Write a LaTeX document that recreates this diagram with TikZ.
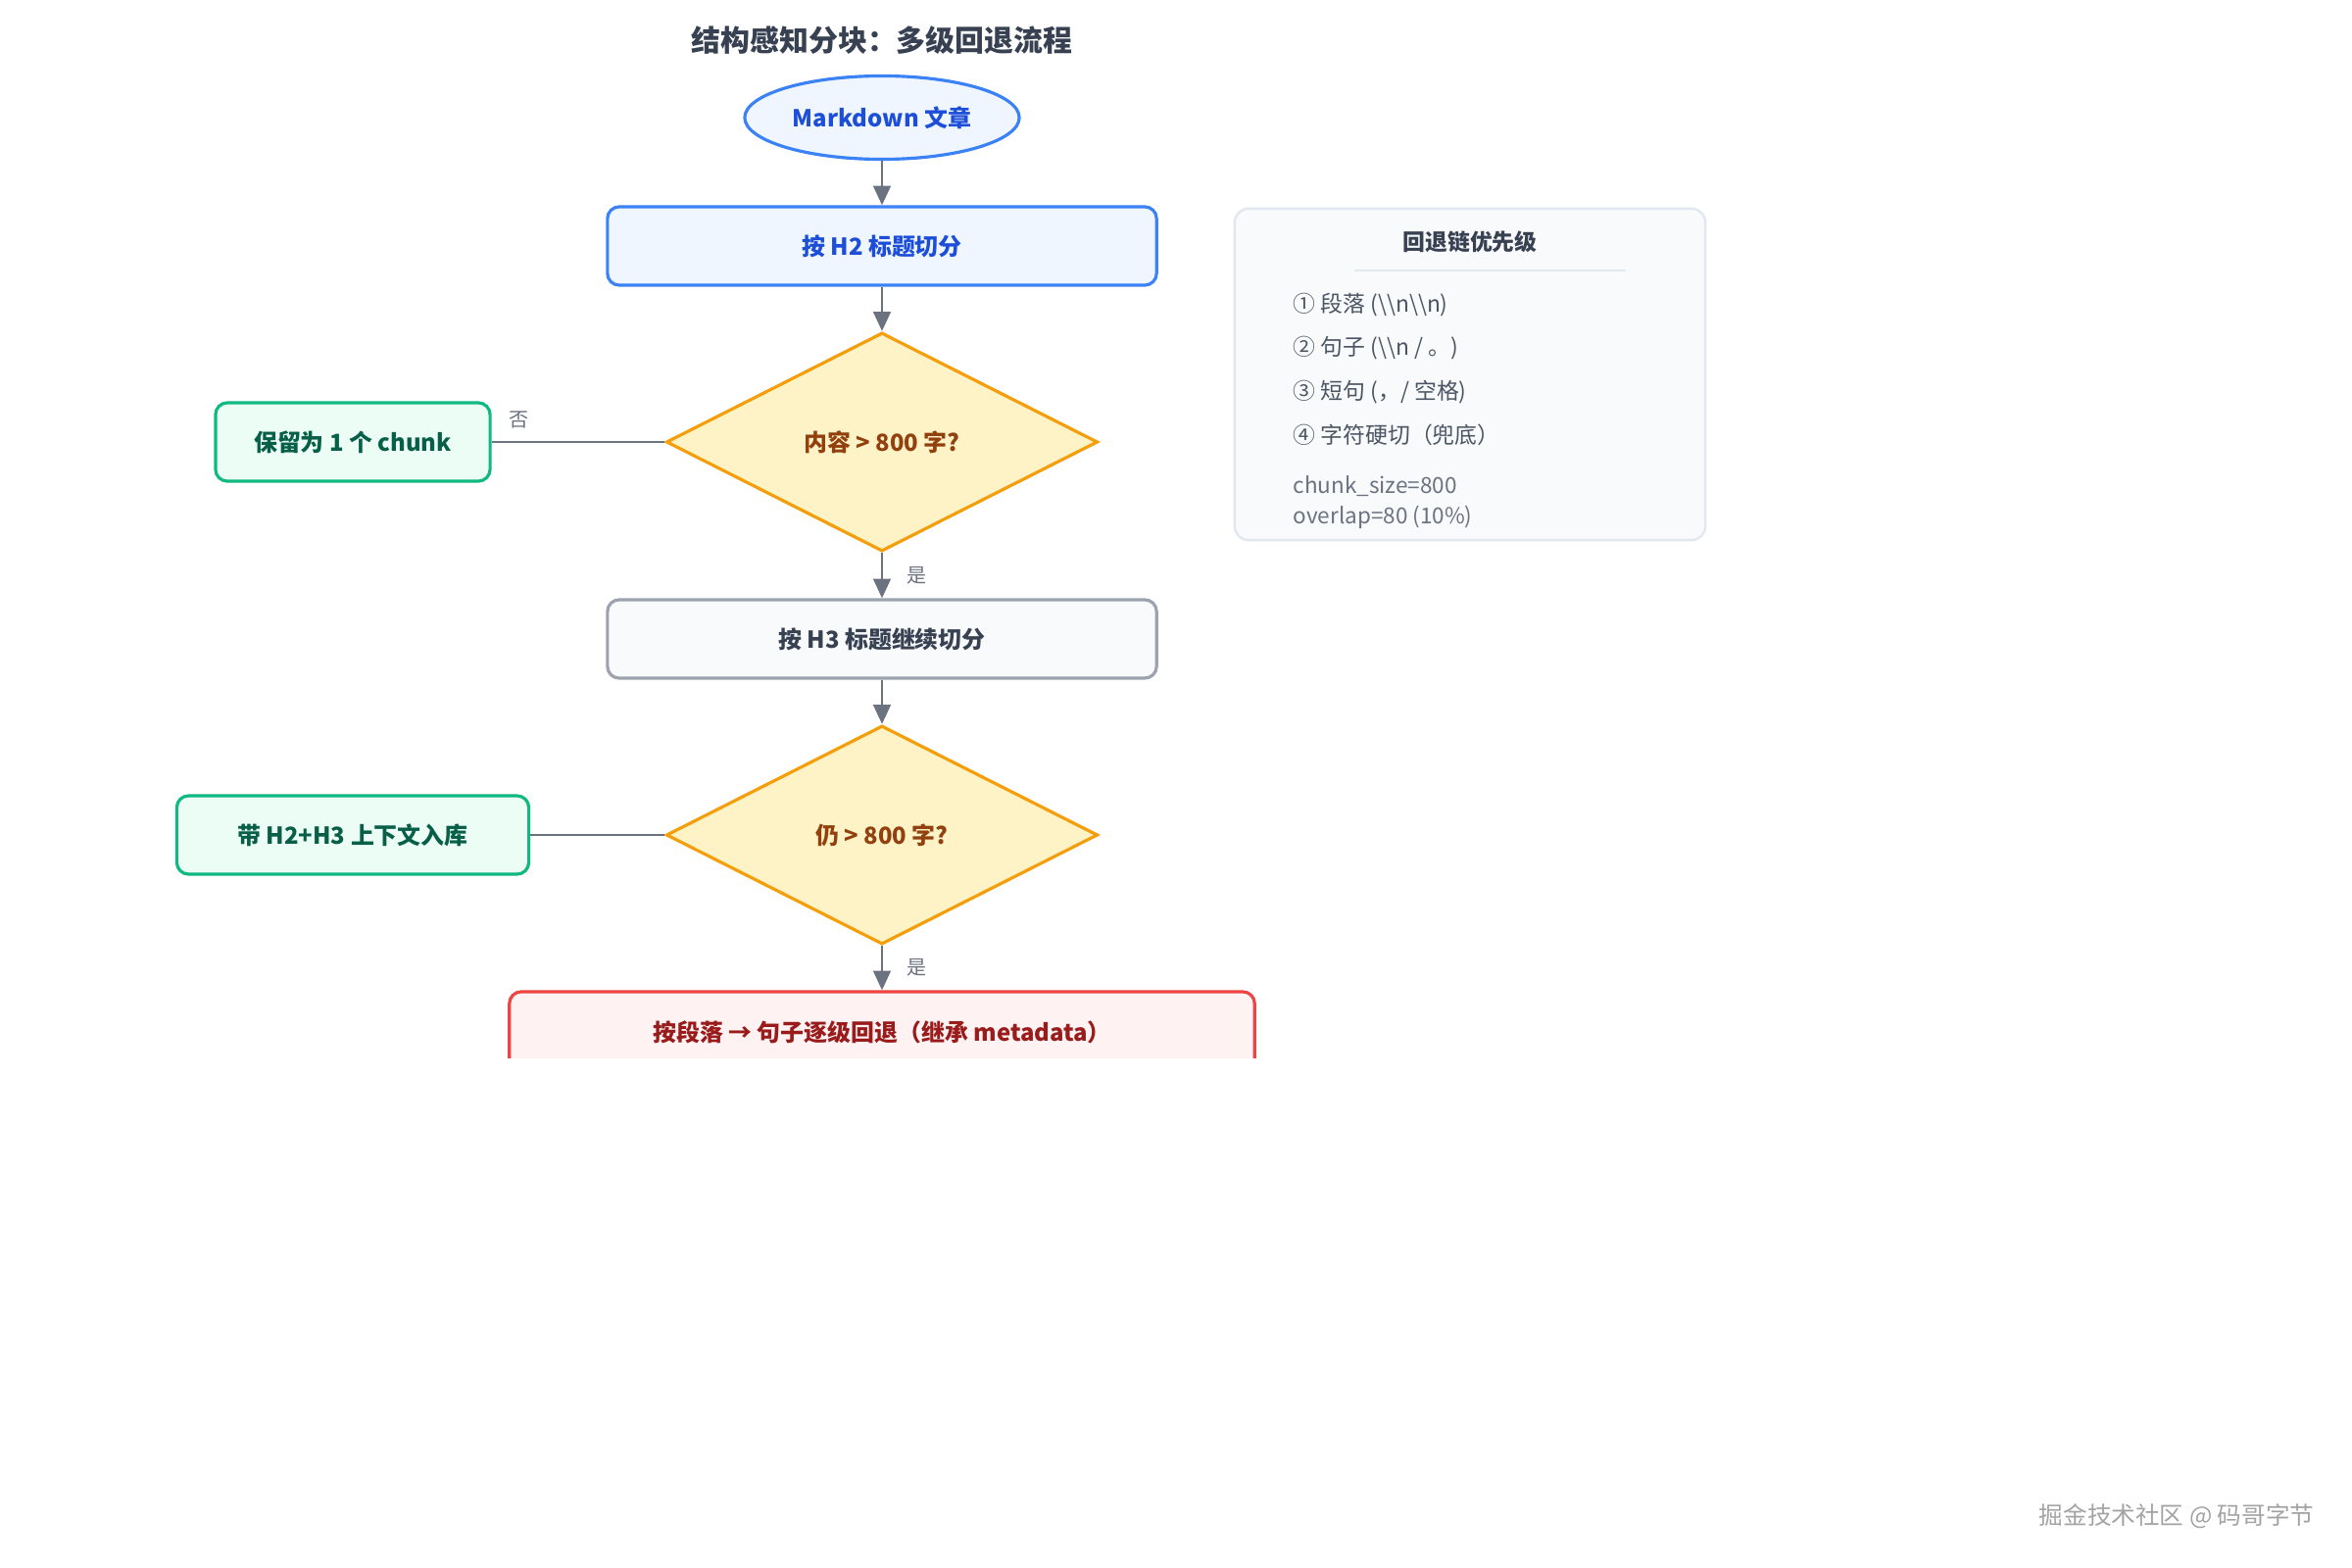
\documentclass[tikz,border=0pt]{standalone}
\usepackage{fontspec}
\setmainfont{Noto Sans CJK SC}
\usetikzlibrary{shapes.geometric,arrows.meta}
\definecolor{blueB}{HTML}{3B82F6}
\definecolor{blueF}{HTML}{EFF6FF}
\definecolor{blueT}{HTML}{1D4ED8}
\definecolor{amberB}{HTML}{F59E0B}
\definecolor{amberF}{HTML}{FEF3C7}
\definecolor{amberT}{HTML}{92400E}
\definecolor{greenB}{HTML}{10B981}
\definecolor{greenF}{HTML}{ECFDF5}
\definecolor{greenT}{HTML}{065F46}
\definecolor{grayB}{HTML}{9CA3AF}
\definecolor{grayF}{HTML}{F8FAFC}
\definecolor{grayT}{HTML}{374151}
\definecolor{redB}{HTML}{EF4444}
\definecolor{redF}{HTML}{FEF2F2}
\definecolor{redT}{HTML}{991B1B}
\definecolor{legB}{HTML}{E2E8F0}
\definecolor{legT}{HTML}{4B5563}
\definecolor{legS}{HTML}{6B7280}
\definecolor{arrowC}{HTML}{6B7280}
\definecolor{wmC}{HTML}{A3A3A3}
\tikzset{
  nodetext/.style={font=\fontsize{6.8pt}{8.2pt}\selectfont\bfseries, inner sep=0pt, align=center},
  bluebox/.style={nodetext, rectangle, rounded corners=0.12cm, draw=blueB, fill=blueF, text=blueT, line width=0.9pt, minimum width=5.6cm, minimum height=0.8cm},
  startell/.style={nodetext, ellipse, draw=blueB, fill=blueF, text=blueT, line width=0.9pt, minimum width=2.8cm, minimum height=0.85cm},
  decision/.style={nodetext, diamond, draw=amberB, fill=amberF, text=amberT, line width=0.9pt, minimum width=4.4cm, minimum height=2.23cm},
  greenbox/.style={nodetext, rectangle, rounded corners=0.12cm, draw=greenB, fill=greenF, text=greenT, line width=0.9pt, minimum height=0.8cm},
  graybox/.style={nodetext, rectangle, rounded corners=0.12cm, draw=grayB, fill=grayF, text=grayT, line width=0.9pt, minimum width=5.6cm, minimum height=0.8cm},
  redbox/.style={nodetext, rectangle, rounded corners=0.12cm, draw=redB, fill=redF, text=redT, line width=0.9pt, minimum width=7.6cm, minimum height=0.82cm},
  flow/.style={draw=arrowC, line width=0.75pt, -{Triangle[length=5.6pt,width=5pt]}},
  plainline/.style={draw=arrowC, line width=0.75pt},
  edgelabel/.style={font=\fontsize{5.7pt}{6.8pt}\selectfont, text=legS, inner sep=0pt},
  legitem/.style={font=\fontsize{6.5pt}{7.8pt}\selectfont, text=legT, inner sep=0pt, anchor=west},
  legsmall/.style={font=\fontsize{6.4pt}{7.6pt}\selectfont, text=legS, inner sep=0pt, anchor=west},
}
\begin{document}
\begin{tikzpicture}[x=0.01cm,y=-0.01cm]
\useasboundingbox (0,0) rectangle (2400,1600);
\fill[white] (0,0) rectangle (2400,1600);

% title
\node[font=\fontsize{8.5pt}{10pt}\selectfont\bfseries, text=grayT, inner sep=0pt] (title) at (900,41) {结构感知分块：多级回退流程};

% flow nodes
\node[startell] (start) at (900,120) {Markdown 文章};
\node[bluebox] (h2) at (900,251) {按 H2 标题切分};
\node[decision] (d1) at (900,451) {内容 > 800 字?};
\node[greenbox, minimum width=2.8cm] (keep) at (360,451) {保留为 1 个 chunk};
\node[graybox] (h3) at (900,652) {按 H3 标题继续切分};
\node[decision] (d2) at (900,852) {仍 > 800 字?};
\node[greenbox, minimum width=3.59cm] (store) at (360,852) {带 H2+H3 上下文入库};
\begin{scope}
  \clip (0,0) rectangle (2400,1079);
  \node[redbox] (fallback) at (900,1053) {按段落 → 句子逐级回退（继承 metadata）};
\end{scope}

% connectors
\draw[flow] (start) -- (h2);
\draw[flow] (h2) -- (d1);
\draw[flow] (d1) -- node[edgelabel, right=0.24cm] (yes1) {是} (h3);
\draw[flow] (h3) -- (d2);
\draw[flow] (d2) -- node[edgelabel, right=0.24cm] (yes2) {是} (fallback);
\draw[plainline] (d1.west) -- node[edgelabel, pos=0.84, above=0.13cm] (no1) {否} (keep.east);
\draw[plainline] (d2.west) -- (store.east);

% legend
\node[rectangle, rounded corners=0.14cm, draw=legB, fill=grayF, line width=0.7pt, minimum width=4.8cm, minimum height=3.38cm, inner sep=0pt] (legend) at (1500,382) {};
\node[font=\fontsize{6.5pt}{7.8pt}\selectfont\bfseries, text=grayT, inner sep=0pt] (legtitle) at (1500,247) {回退链优先级};
\coordinate (divL) at (1382,276);
\coordinate (divR) at (1659,276);
\draw[draw=legB, line width=0.6pt] (divL) -- (divR);
\node[legitem] (li1) at (1319,311) {① 段落 (\textbackslash\textbackslash n\textbackslash\textbackslash n)};
\node[legitem] (li2) at (1319,355) {② 句子 (\textbackslash\textbackslash n / 。)};
\node[legitem] (li3) at (1319,400) {③ 短句 (，/ 空格)};
\node[legitem] (li4) at (1319,444) {④ 字符硬切（兜底）};
\node[legsmall] (ls1) at (1319,496) {chunk\_size=800};
\node[legsmall] (ls2) at (1319,528) {overlap=80 (10\%)};

% watermark
\node[font=\fontsize{7pt}{8.4pt}\selectfont, text=wmC, inner sep=0pt, anchor=east] (wm) at (2362,1547) {掘金技术社区 @ 码哥字节};
\end{tikzpicture}
\end{document}
